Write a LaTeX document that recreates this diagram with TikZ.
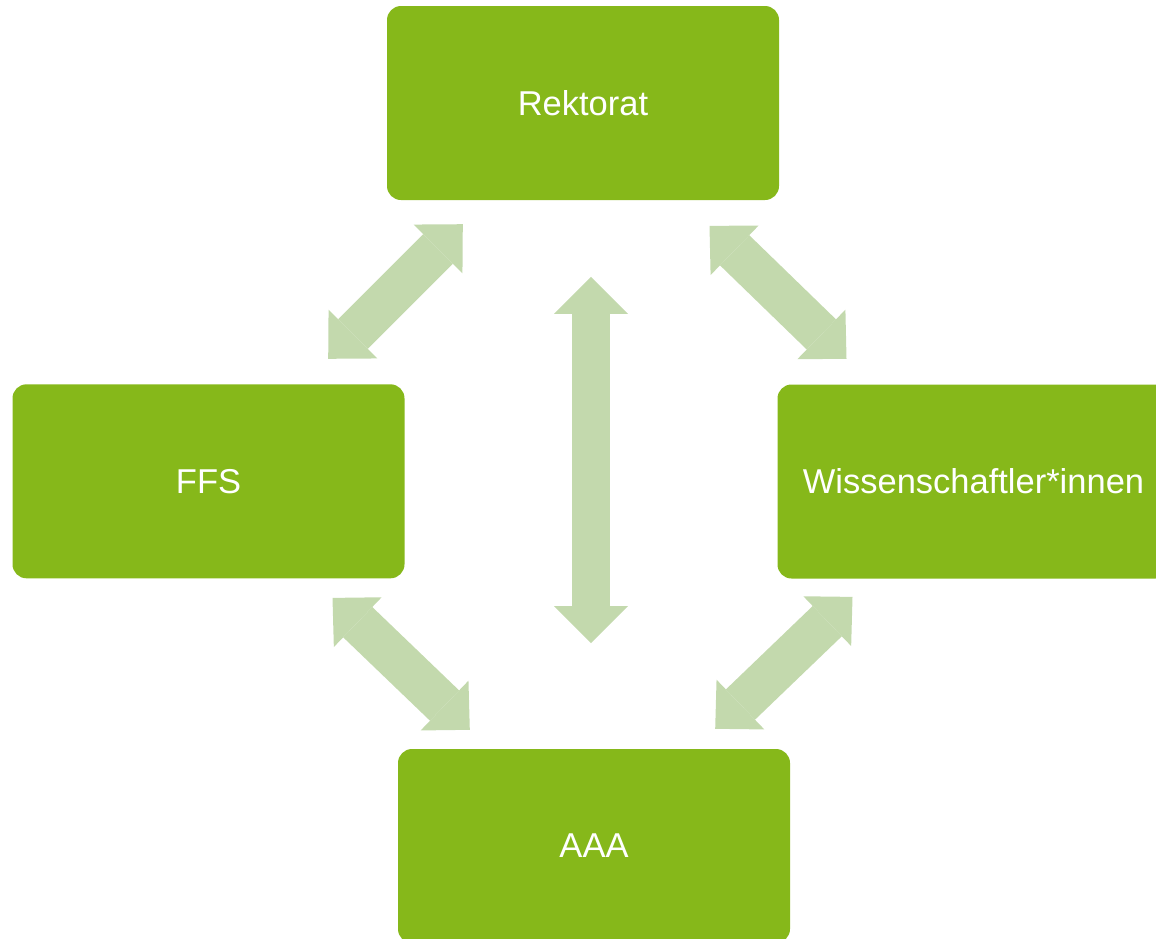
\documentclass[tikz,border=0pt]{standalone}
\usepackage{fontspec}
\setmainfont{Liberation Sans}
\usetikzlibrary{arrows.meta, calc}
\definecolor{unitgreen}{HTML}{86B81A}
\definecolor{linkgreen}{HTML}{C3D9AD}

\begin{document}
\begin{tikzpicture}[x=1pt,y=-1pt]
			\tikzset{
			unit/.style={
					rectangle, fill=unitgreen, text=white,
					minimum width=392pt, minimum height=194pt,
					rounded corners=14pt, inner sep=0pt,
					font=\fontsize{34.5}{40}\selectfont,
				},
			link/.style={
			draw=linkgreen, line width=42pt,
			{Triangle[length=35pt,width=69pt,line width=0pt]}-{Triangle[length=35pt,width=69pt,line width=0pt]}, },
			vlink/.style={
			draw=linkgreen, line width=38pt,
			{Triangle[length=37pt,width=74pt,line width=0pt]}-{Triangle[length=37pt,width=74pt,line width=0pt]}, },
			}
			\useasboundingbox (0,0) rectangle (1156,938);
			\clip (0,0) rectangle (1156,938);

			\node[unit] (rek) at (583,103) {Rektorat};
			\node[unit] (ffs) at (208.5,481.3) {FFS};
			\node[unit] (wiss) at (973.5,481.5) {Wissenschaftler*innen};
			\node[unit] (aaa) at (594,846) {AAA};

			\draw[link] ($(rek.south west)+(76,24)$) -- ($(ffs.north east)+(-76.5,-25.3)$);
			\draw[link] ($(rek.south east)+(-69.7,25.7)$) -- ($(wiss.north west)+(69.2,-25.5)$);
			\draw[link] ($(ffs.south east)+(-72.2,19.4)$) -- ($(aaa.north west)+(72,-19)$);
			\draw[link] ($(wiss.south west)+(75.2,18.2)$) -- ($(aaa.north east)+(-75,-20)$);
			\draw[vlink] ($(rek.south)+(8,76.7)$) -- ($(aaa.north)+(-3,-105.7)$);
		\end{tikzpicture}
\end{document}
